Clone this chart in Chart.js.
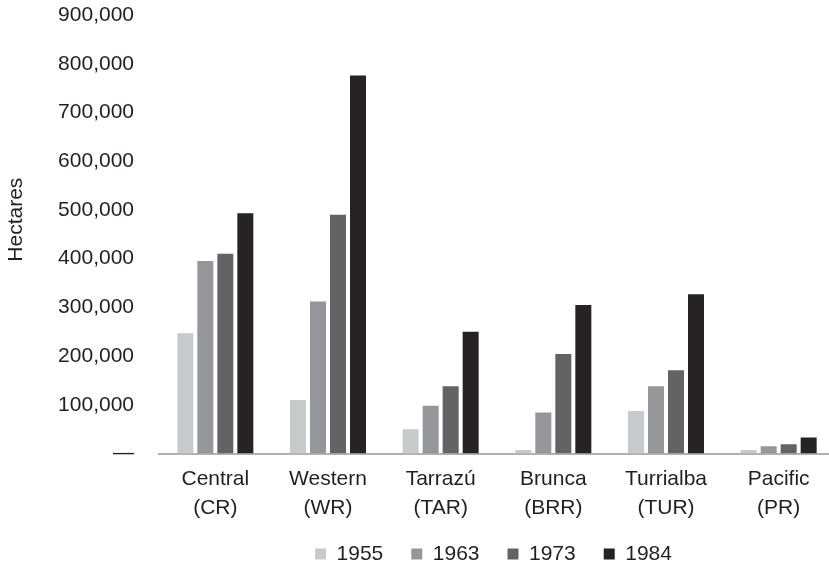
<!DOCTYPE html>
<html>
<head>
<meta charset="utf-8">
<style>
  html, body { margin: 0; padding: 0; background: #ffffff; overflow: hidden; }
  #wrap { position: relative; width: 836px; height: 566px; }
</style>
<script src="https://cdn.jsdelivr.net/npm/chart.js@4/dist/chart.umd.min.js"></script>
</head>
<body>
<div id="wrap"><canvas id="c" width="836" height="566"></canvas></div>
<script>
const categories = [["Central", "(CR)"], ["Western", "(WR)"], ["Tarrazú", "(TAR)"], ["Brunca", "(BRR)"], ["Turrialba", "(TUR)"], ["Pacific", "(PR)"]];
const seriesNames = ["1955", "1963", "1973", "1984"];
const values1955 = [247000, 110000, 50000, 7000, 87000, 7000];
const values1963 = [395000, 312000, 98000, 84000, 138000, 15000];
const values1973 = [410000, 490000, 138000, 204000, 171000, 19000];
const values1984 = [493000, 776000, 250000, 305000, 327000, 33000];
const yTicks = [0, 100000, 200000, 300000, 400000, 500000, 600000, 700000, 800000, 900000];
const yAxisTitle = "Hectares";

const colors = ["#c8c9cb", "#959699", "#636365", "#252324"];
const textColor = "#231f20";
const fontFamily = "'Liberation Sans', Arial, Helvetica, sans-serif";

const seriesValues = [values1955, values1963, values1973, values1984];

const legendPlace = {
  id: 'legendPlace',
  beforeLayout(chart) {
    const lg = chart.legend;
    if (lg && !lg._patched) {
      const origFit = lg.fit;
      lg.fit = function () { origFit.call(this); this.height = 37.5; };
      lg._patched = true;
    }
  },
  afterLayout(chart) {
    const lg = chart.legend;
    if (!lg) return;
    const dx = 76;
    lg.left += dx; lg.right += dx;
    lg.top = 515.5; lg.bottom = 600;
  }
};

new Chart(document.getElementById('c'), {
  type: 'bar',
  data: {
    labels: categories,
    datasets: seriesNames.map((name, i) => ({
      label: name,
      data: seriesValues[i],
      backgroundColor: colors[i],
      borderWidth: 0,
      categoryPercentage: 0.71,
      barPercentage: 0.8
    }))
  },
  options: {
    responsive: false,
    animation: false,
    devicePixelRatio: 1,
    layout: { padding: { top: 15, right: 1, left: 0, bottom: 0 } },
    plugins: {
      tooltip: { enabled: false },
      legend: {
        position: 'bottom',
        labels: {
          boxWidth: 11,
          boxHeight: 11,
          padding: 28,
          color: textColor,
          font: { family: fontFamily, size: 21 }
        }
      }
    },
    scales: {
      x: {
        grid: { display: false, drawTicks: false },
        border: { display: true, color: '#b0b1b8', width: 2 },
        ticks: {
          color: textColor,
          font: { family: fontFamily, size: 21, lineHeight: 1.35 },
          padding: 12,
          autoSkip: false,
          maxRotation: 0,
          minRotation: 0
        },
        afterFit(scale) { scale.height = 75; }
      },
      y: {
        min: 0,
        max: 900000,
        grid: { display: false, drawTicks: true, tickLength: 25 },
        border: { display: false },
        afterBuildTicks(scale) { scale.ticks = yTicks.map(v => ({ value: v })); },
        ticks: {
          color: textColor,
          padding: 0,
          font: { family: fontFamily, size: 21 },
          callback: (v) => v === 0 ? '\u2014' : v.toLocaleString('en-US')
        },
        title: {
          display: true,
          text: '     ' + yAxisTitle,
          color: textColor,
          font: { family: fontFamily, size: 21 },
          padding: { top: 4, bottom: 0 }
        },
        afterFit(scale) { scale.width = 159; }
      }
    }
  },
  plugins: [legendPlace]
});
</script>
</body>
</html>
